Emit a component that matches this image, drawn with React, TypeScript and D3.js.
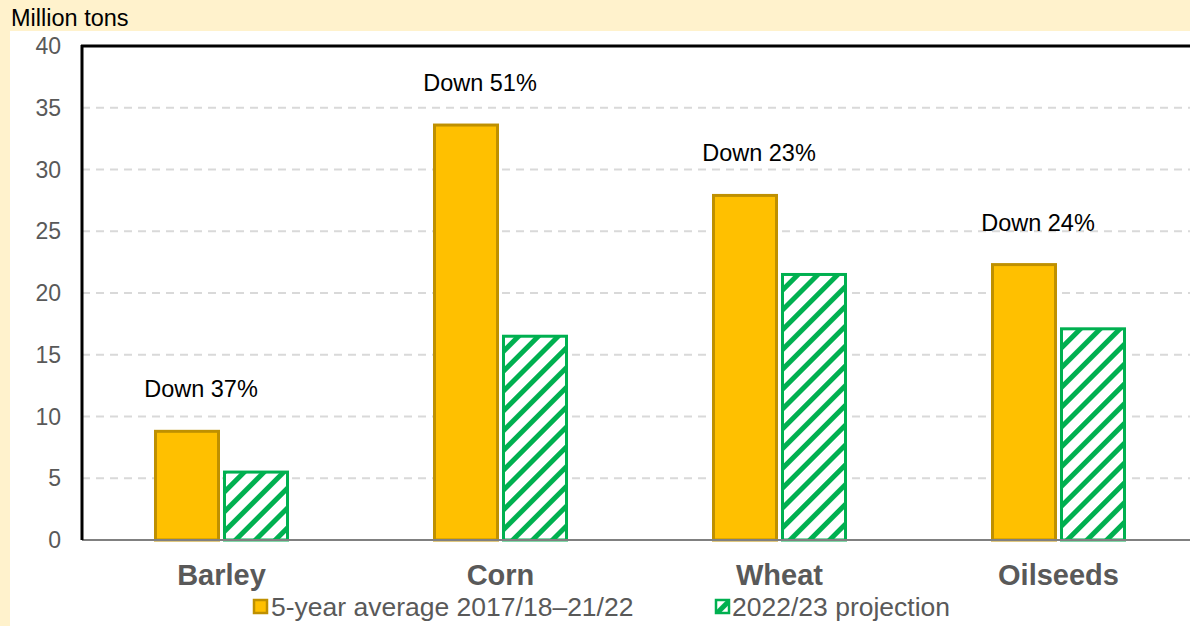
import React from "react";
import * as d3 from "d3";

const categories = ["Barley", "Corn", "Wheat", "Oilseeds"];
const avgValues = [8.8, 33.6, 27.9, 22.3];
const projValues = [5.5, 16.5, 21.5, 17.1];
const annotations = ["Down 37%", "Down 51%", "Down 23%", "Down 24%"];
const yTicks = [0, 5, 10, 15, 20, 25, 30, 35, 40];
const seriesNames = ["5-year average 2017/18\u201321/22", "2022/23 projection"];
const yLabel = "Million tons";

const W = 1190;
const H = 626;
const left = 82;
const top = 46;
const bottom = 540;
const band = 279;

export default function App() {
  const x = d3
    .scaleBand<string>()
    .domain(categories)
    .range([left, left + band * categories.length])
    .paddingInner(0)
    .paddingOuter(0);
  const y = d3.scaleLinear().domain([0, 40]).range([bottom, top]);
  const barW = 63;
  const gap = 6;
  const font = "Arial, 'Liberation Sans', sans-serif";

  return (
    <svg
      width={W}
      height={H}
      style={{ position: "absolute", left: 0, top: 0 }}
      fontFamily={font}
    >
      <defs>
        <pattern
          id="hatch"
          patternUnits="userSpaceOnUse"
          width="14"
          height="14"
          patternTransform="rotate(45)"
        >
          <rect width="14" height="14" fill="white" />
          <rect x="0" y="0" width="5" height="14" fill="#00B050" />
        </pattern>
      </defs>
      <rect x={0} y={0} width={W} height={H} fill="#FFF2CC" />
      <rect x={10} y={31} width={W - 10} height={H - 31} fill="white" />
      <text x={11} y={26} fontSize={23.5} fill="#000">
        {yLabel}
      </text>
      {yTicks.map((t) => (
        <g key={t}>
          {t > 0 && t < 40 && (
            <line
              x1={left}
              x2={W}
              y1={y(t)}
              y2={y(t)}
              stroke="#D9D9D9"
              strokeWidth={2}
              strokeDasharray="8,6"
            />
          )}
          <text
            x={61}
            y={y(t)}
            dy="0.35em"
            textAnchor="end"
            fontSize={23}
            fill="#595959"
          >
            {t}
          </text>
        </g>
      ))}
      {categories.map((c, i) => {
        const cx = (x(c) as number) + x.bandwidth() / 2;
        const x1 = cx - gap / 2 - barW;
        const x2 = cx + gap / 2;
        return (
          <g key={c}>
            <rect
              x={x1}
              y={y(avgValues[i])}
              width={barW}
              height={bottom - y(avgValues[i])}
              fill="#FFC000"
              stroke="#BF9000"
              strokeWidth={3}
            />
            <rect
              x={x2}
              y={y(projValues[i])}
              width={barW}
              height={bottom - y(projValues[i])}
              fill="url(#hatch)"
              stroke="#00B050"
              strokeWidth={3}
            />
            <text
              x={x1 + barW / 2 + 14}
              y={y(avgValues[i]) - 34}
              textAnchor="middle"
              fontSize={23.5}
              fill="#000"
            >
              {annotations[i]}
            </text>
            <text
              x={cx}
              y={575}
              dy="0.35em"
              textAnchor="middle"
              fontSize={29}
              fontWeight="bold"
              fill="#595959"
            >
              {c}
            </text>
          </g>
        );
      })}
      <line x1={left} x2={W} y1={bottom} y2={bottom} stroke="#808080" strokeWidth={2} />
      <line x1={left} x2={left} y1={top - 1} y2={bottom} stroke="#000" strokeWidth={3} />
      <line x1={left - 1} x2={W} y1={top} y2={top} stroke="#000" strokeWidth={3} />
      <g>
        <rect x={254} y={600} width={13} height={13} fill="#FFC000" stroke="#BF9000" strokeWidth={2.5} />
        <text x={271} y={607} dy="0.35em" fontSize={26.5} fill="#595959">
          {seriesNames[0]}
        </text>
        <rect x={716} y={600} width={13} height={13} fill="url(#hatch)" stroke="#00B050" strokeWidth={2.5} />
        <text x={732} y={607} dy="0.35em" fontSize={26.5} fill="#595959">
          {seriesNames[1]}
        </text>
      </g>
    </svg>
  );
}
